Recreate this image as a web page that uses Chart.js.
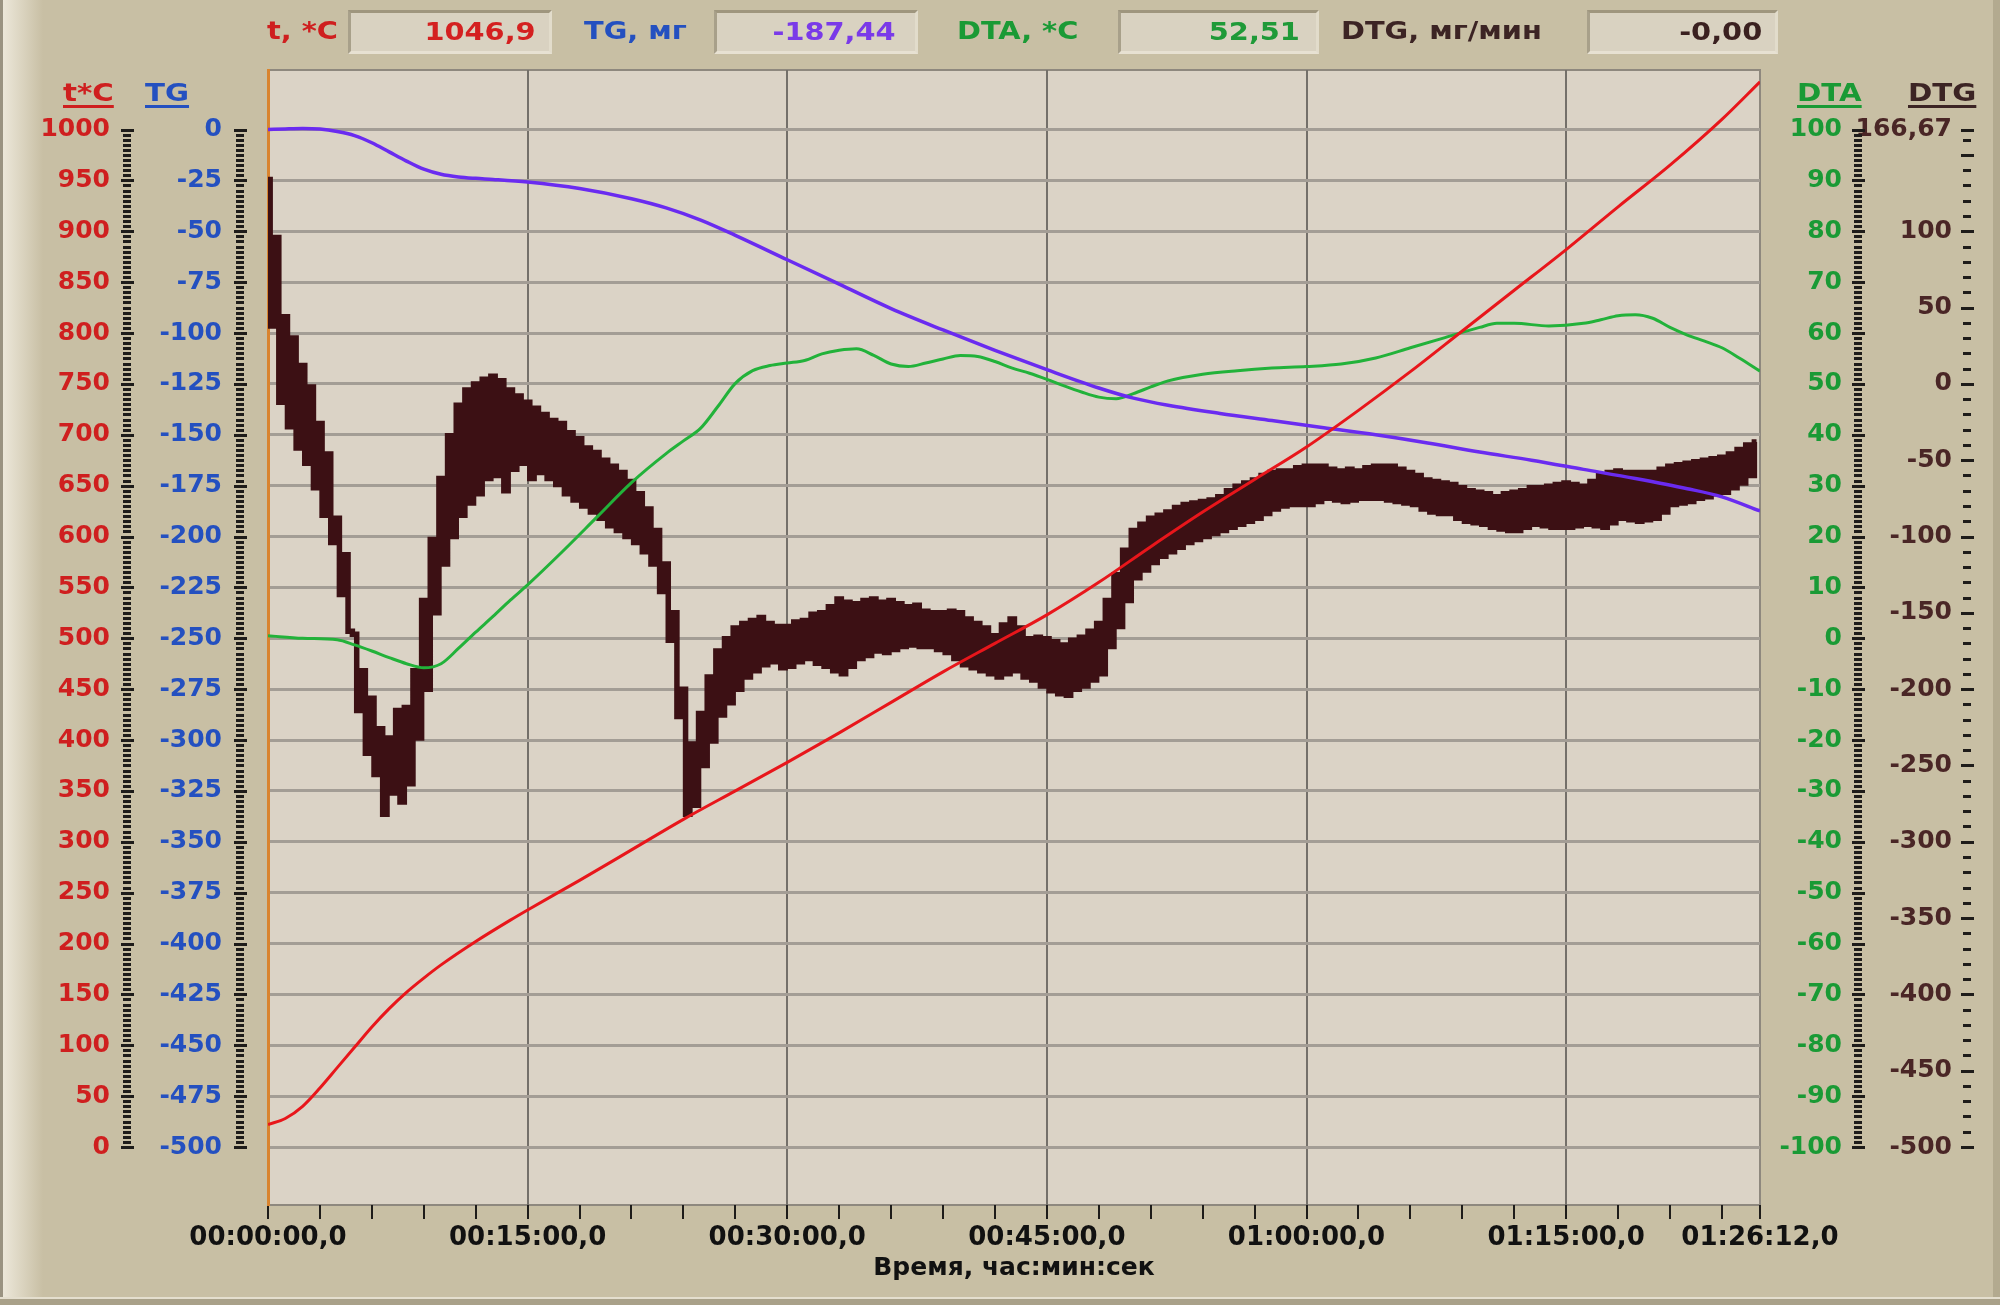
<!DOCTYPE html>
<html>
<head>
<meta charset="utf-8">
<script src="https://cdn.jsdelivr.net/npm/chart.js@4.4.1/dist/chart.umd.min.js"></script>
<style>
    html, body { margin: 0; padding: 0; }
    body {
        width: 2000px; height: 1305px; position: relative; overflow: hidden;
        background: #c8bfa4;
        font-family: "DejaVu Sans", sans-serif; font-weight: bold;
    }
    #stripe { position: absolute; left: 3px; top: 0; width: 40px; height: 1305px;
        background: linear-gradient(to right, #ece7d9, #c8bfa4); }
    #edgeL { position: absolute; left: 0; top: 0; width: 3px; height: 1305px; background: #9a9381; }
    #edgeR { position: absolute; right: 0; top: 0; width: 7px; height: 1305px; background: #b3aa8f; }
    #edgeB { position: absolute; left: 0; bottom: 0; width: 2000px; height: 6px; background: #a9a189;
        border-top: 2px solid #e4dece; }
    #chartBox { position: absolute; left: 0; top: 0; width: 2000px; height: 1305px; }
    .lbl { position: absolute; top: 11px; height: 40px; line-height: 40px; font-size: 24px;
        white-space: nowrap; transform: scaleX(1.2); transform-origin: left center; }
    .box { position: absolute; top: 10px; height: 44px; box-sizing: border-box;
        background: #d9d2c1; text-align: right; line-height: 38px; font-size: 24px;
        border-top: 3px solid #9f967e; border-left: 3px solid #a8a08a;
        border-bottom: 3px solid #e7e1d2; border-right: 3px solid #e2dccb; }
    .box span { display: inline-block; transform: scaleX(1.2); transform-origin: right center; }
    .axh { position: absolute; top: 76px; font-size: 24px; line-height: 34px; white-space: nowrap;
        text-decoration: underline; text-decoration-thickness: 3px; text-underline-offset: 4px;
        transform: scaleX(1.22); transform-origin: left center; }
</style>
</head>
<body>
<div id="edgeL"></div>
<div id="stripe"></div>
<div id="edgeR"></div>
<div id="edgeB"></div>
<div id="chartBox"><canvas id="dtaChart" width="2000" height="1305"></canvas></div>

<!-- readout row -->
<div class="lbl" style="left:267px;color:#cf1f1f">t, *C</div>
<div class="box" style="left:348px;width:204px;padding-right:13px;color:#d42020"><span>1046,9</span></div>
<div class="lbl" style="left:584px;color:#2450c0">TG, мг</div>
<div class="box" style="left:714px;width:204px;padding-right:19px;color:#7a3ae8"><span>-187,44</span></div>
<div class="lbl" style="left:957px;color:#1a9a35">DTA, *C</div>
<div class="box" style="left:1118px;width:201px;padding-right:16px;color:#1f9a38"><span>52,51</span></div>
<div class="lbl" style="left:1341px;color:#3c2424">DTG, мг/мин</div>
<div class="box" style="left:1587px;width:191px;padding-right:13px;color:#3a2020"><span>-0,00</span></div>

<!-- axis headers -->
<div class="axh" style="left:63px;color:#cf1f1f">t*C</div>
<div class="axh" style="left:145px;color:#2450c0">TG</div>
<div class="axh" style="left:1797px;color:#1a9a35">DTA</div>
<div class="axh" style="left:1908px;color:#3c2424">DTG</div>

<script>
// Time in minutes

const tempTime = [0, 1, 2, 3, 4, 5, 6, 7, 8, 9, 10, 12, 14, 15, 18, 21, 24, 27, 30, 33, 36, 39, 42, 45,
    48, 51, 54, 57, 60, 63, 66, 69, 72, 75, 78, 81, 84, 86.2];
const tempVal = [22, 28, 40, 58, 78, 98, 118, 136, 152, 166, 179, 202, 223, 233, 262, 292, 322, 350, 378, 407, 437, 467, 495, 523,
    555, 590, 624, 656, 688, 724, 762, 802, 842, 882, 924, 965, 1010, 1046.9];

const tgTime = [0, 1, 2, 3, 4, 5, 6, 7, 8, 9, 10, 11, 12, 13, 15, 18, 21, 23, 25, 27, 30, 33, 36, 39, 42, 45,
    48, 50, 52, 55, 58, 61, 64, 67, 70, 73, 76, 79, 82, 84, 86.2];
const tgVal = [0, 0.3, 0.5, 0.2, -1, -3, -6.5, -11, -15.5, -19.5, -22, -23.3, -24, -24.5, -25.8, -29, -34, -38.5, -44.5, -52, -64, -76, -88, -98.5, -108.5, -118,
    -127, -132, -135.5, -139.5, -143, -146.5, -150, -154, -158.5, -162.5, -167, -171.5, -176.5, -180.5, -187.44];

const dtaTime = [0, 2, 4, 5, 6, 7, 8, 9, 10, 11, 12, 13, 14, 15, 17, 19, 21, 23, 24, 25, 26, 27, 28, 29, 30, 31, 32, 33, 34, 35,
    36, 37, 38, 39, 40, 41, 42, 43, 44, 45, 46, 47, 48, 49, 50, 51, 52, 54, 56, 58, 60, 62, 64, 66, 68, 70, 71, 72, 74, 76,
    77, 78, 79, 80, 81, 82, 83, 84, 85, 86.2];
const dtaVal = [0.5, 0, -0.3, -1.3, -2.5, -3.8, -5, -5.8, -5, -2, 1.2, 4.3, 7.5, 10.5, 17, 23.8, 30.6, 36.3, 38.8, 41.3, 45.6, 50.1, 52.6, 53.6, 54.1, 54.6, 55.9, 56.6, 56.9, 55.6,
    53.9, 53.4, 54.1, 54.9, 55.6, 55.4, 54.4, 53.1, 52.1, 50.9, 49.6, 48.4, 47.4, 47.1, 48.1, 49.4, 50.6, 51.9, 52.6, 53.1, 53.4, 53.9, 55.1, 57.1, 59.1, 61.1, 61.9, 61.9, 61.4, 61.9,
    62.6, 63.4, 63.6, 62.9, 61.1, 59.6, 58.4, 57.1, 55.1, 52.51];

// DTG is sampled every 0.25 min (one row = one minute)
const dtgStep = 0.25;
const dtgVal = [
    134, 38, 96, -12,   44, -28, 30, -42,   12, -52, -2, -68,   -26, -86, -46, -104,
    -88, -138, -112, -162,   -164, -214, -188, -242,   -206, -256, -226, -282,   -232, -268, -214, -274,
    -212, -262, -188, -232,   -142, -200, -102, -150,   -62, -118, -34, -100,   -14, -86, -4, -78,
    0, -72, 3, -62,   5, -60, 2, -70,   -4, -56, -8, -52,   -12, -62, -16, -58,
    -20, -62, -24, -66,   -26, -72, -32, -76,   -36, -80, -42, -84,   -45, -88, -50, -93,
    -54, -96, -58, -100,   -64, -104, -72, -110,   -82, -118, -96, -136,   -118, -168, -150, -218,
    -200, -282, -236, -276,   -216, -250, -192, -234,   -175, -217, -167, -209,   -160, -200, -157, -192,
    -155, -188, -153, -184,   -157, -182, -159, -186,   -159, -185, -156, -182,   -155, -180, -151, -183,
    -150, -185, -146, -188,   -141, -190, -143, -185,   -144, -180, -142, -178,   -141, -175, -143, -176,
    -142, -174, -144, -172,   -146, -171, -145, -172,   -149, -172, -150, -174,   -150, -176, -149, -180,
    -150, -184, -154, -186,   -157, -188, -160, -190,   -165, -192, -158, -190,   -154, -188, -160, -192,
    -167, -194, -166, -198,   -167, -201, -169, -203,   -171, -204, -168, -200,   -166, -198, -162, -194,
    -157, -190, -142, -172,   -125, -159, -109, -142,   -96, -127, -92, -122,   -88, -117, -86, -113,
    -84, -110, -81, -107,   -79, -104, -78, -102,   -77, -100, -76, -98,   -74, -96, -70, -94,
    -67, -92, -65, -90,   -63, -88, -60, -85,   -58, -82, -57, -80,   -57, -79, -55, -79,
    -54, -79, -54, -77,   -54, -75, -56, -76,   -57, -77, -56, -76,   -57, -75, -55, -75,
    -54, -75, -54, -76,   -54, -77, -56, -78,   -58, -79, -60, -82,   -63, -84, -64, -85,
    -65, -85, -66, -88,   -68, -90, -70, -91,   -71, -92, -72, -94,   -74, -95, -72, -96,
    -71, -96, -70, -94,   -68, -92, -68, -93,   -67, -94, -66, -94,   -65, -94, -66, -93,
    -67, -92, -64, -93,   -60, -94, -58, -91,   -57, -88, -58, -89,   -58, -90, -58, -89,
    -58, -88, -56, -84,   -54, -79, -53, -78,   -52, -77, -51, -75,   -50, -74, -49, -72,
    -48, -71, -46, -68,   -43, -65, -40, -60,
    -38
];

// Axis ticks
const xMajorTicks = [0, 15, 30, 45, 60, 75, 86.2];
const xMinorStep = 3;
const tempTicks = [0, 50, 100, 150, 200, 250, 300, 350, 400, 450, 500, 550, 600, 650, 700, 750, 800, 850, 900, 950, 1000];
const tgTicks = [-500, -475, -450, -425, -400, -375, -350, -325, -300, -275, -250, -225, -200, -175, -150, -125, -100, -75, -50, -25, 0];
const dtaTicks = [-100, -90, -80, -70, -60, -50, -40, -30, -20, -10, 0, 10, 20, 30, 40, 50, 60, 70, 80, 90, 100];
const dtgTicks = [-500, -450, -400, -350, -300, -250, -200, -150, -100, -50, 0, 50, 100, 166.67];

// Shared vertical span (in °C); other axes are linear images of it
const tempMin = -57;
const tempMax = 1058.5;
const toTG = t => t / 2 - 500;
const toDTA = t => (t - 500) / 5;
const toDTG = t => t * 2 / 3 - 500;

const FONT = '"DejaVu Sans", sans-serif';
Chart.defaults.font.family = FONT;

function pairs(xs, ys) {
    return ys.map((y, i) => ({ x: xs[i], y: y }));
}

function clock(min) {
    const total = Math.round(min * 60);
    const h = Math.floor(total / 3600);
    const m = Math.floor((total % 3600) / 60);
    const s = total % 60;
    const p = n => String(n).padStart(2, '0');
    return p(h) + ':' + p(m) + ':' + p(s) + ',0';
}

function xTickList() {
    const list = [];
    for (let v = 0; v <= 84; v += xMinorStep) list.push(v);
    list.push(86.2);
    return list;
}

function isMajorX(v) {
    return xMajorTicks.some(t => Math.abs(t - v) < 1e-6);
}

function fixedTicks(values) {
    return function(scale) {
        scale.ticks = values.map(v => ({ value: v }));
    };
}

function commaLabel(v) {
    return String(Math.round(v * 100) / 100).replace('.', ',');
}

// dashed tick columns next to the labels
const dashColumns = [
    { axis: 'yT', cx: 127, from: 0, to: 1000, minor: 5, major: 50 },
    { axis: 'yTG', cx: 240, from: -500, to: 0, minor: 2.5, major: 25 },
    { axis: 'yDTA', cx: 1858, from: -100, to: 100, minor: 1, major: 10 },
    { axis: 'yDTG', cx: 1967, from: -500, to: 160, minor: 10, major: 50, extra: [166.67] }
];

const panelPlugin = {
    id: 'panel',
    beforeDraw(chart) {
        const { ctx, chartArea: a } = chart;
        ctx.save();
        ctx.fillStyle = '#dbd3c6';
        ctx.fillRect(a.left, a.top, a.right - a.left, a.bottom - a.top);
        ctx.strokeStyle = '#8e887e';
        ctx.lineWidth = 2;
        ctx.strokeRect(a.left, a.top, a.right - a.left, a.bottom - a.top);
        ctx.restore();
    },
    afterDraw(chart) {
        const ctx = chart.ctx;
        ctx.save();
        ctx.fillStyle = '#1e1c1a';
        dashColumns.forEach(col => {
            const scale = chart.scales[col.axis];
            const n = Math.round((col.to - col.from) / col.minor);
            const draw = (v, major) => {
                const y = Math.round(scale.getPixelForValue(v));
                const w = major ? 13 : 8;
                ctx.fillRect(Math.round(col.cx - w / 2), y - 1, w, 3);
            };
            for (let i = 0; i <= n; i++) {
                const v = col.from + i * col.minor;
                const r = v / col.major;
                draw(v, Math.abs(r - Math.round(r)) < 1e-6);
            }
            (col.extra || []).forEach(v => draw(v, true));
        });
        ctx.restore();
    }
};

const ctx = document.getElementById('dtaChart');
const dtaChart = new Chart(ctx, {
    type: 'line',
    data: {
        datasets: [
            {
                label: 't',
                data: pairs(tempTime, tempVal),
                yAxisID: 'yT',
                borderColor: '#e8161b',
                borderWidth: 3,
                cubicInterpolationMode: 'monotone',
                pointRadius: 0
            },
            {
                label: 'TG',
                data: pairs(tgTime, tgVal),
                yAxisID: 'yTG',
                borderColor: '#6a2bf0',
                borderWidth: 3.5,
                cubicInterpolationMode: 'monotone',
                pointRadius: 0
            },
            {
                label: 'DTA',
                data: pairs(dtaTime, dtaVal),
                yAxisID: 'yDTA',
                borderColor: '#22b23a',
                borderWidth: 3,
                cubicInterpolationMode: 'monotone',
                pointRadius: 0
            },
            {
                label: 'DTG',
                data: dtgVal.map((v, i) => ({ x: i * dtgStep, y: v })),
                yAxisID: 'yDTG',
                borderColor: '#3c1014',
                borderWidth: 5.5,
                stepped: 'middle',
                pointRadius: 0
            }
        ]
    },
    options: {
        responsive: false,
        animation: false,
        devicePixelRatio: 1,
        layout: { padding: { left: 0, right: 48, top: 70, bottom: 0 } },
        plugins: {
            legend: { display: false },
            tooltip: { enabled: false }
        },
        scales: {
            x: {
                type: 'linear',
                position: 'bottom',
                min: 0,
                max: 86.2,
                afterBuildTicks: fixedTicks(xTickList()),
                afterFit: s => { s.height = 100; },
                grid: {
                    color: c => (c.tick && isMajorX(c.tick.value) && c.tick.value > 0 && c.tick.value < 86) ? '#74706a' : 'rgba(0,0,0,0)',
                    lineWidth: 2,
                    tickColor: '#1e1c1a',
                    tickWidth: 2,
                    tickLength: 14
                },
                border: { display: false },
                ticks: {
                    autoSkip: false,
                    maxRotation: 0,
                    padding: 4,
                    color: '#111',
                    font: { size: 26, weight: 'bold' },
                    callback: v => isMajorX(v) ? clock(v) : ''
                },
                title: {
                    display: true,
                    text: 'Время, час:мин:сек',
                    color: '#111',
                    font: { size: 25, weight: 'bold' },
                    padding: { top: 0, bottom: 22 }
                }
            },
            yT: {
                axis: 'y',
                position: 'left',
                weight: 2,
                min: tempMin,
                max: tempMax,
                afterBuildTicks: fixedTicks(tempTicks),
                afterFit: s => { s.width = 128; },
                grid: { color: '#a39d95', lineWidth: 3, drawTicks: false },
                border: { display: false },
                ticks: {
                    autoSkip: false, padding: 18, color: '#cf1f1f', font: { size: 25, weight: 'bold' },
                    callback: v => String(v)
                }
            },
            yTG: {
                axis: 'y',
                position: 'left',
                weight: 1,
                min: toTG(tempMin),
                max: toTG(tempMax),
                afterBuildTicks: fixedTicks(tgTicks),
                afterFit: s => { s.width = 140; },
                grid: { drawOnChartArea: false, drawTicks: false },
                border: { display: true, color: '#d9842f', width: 3, dash: [6, 5] },
                ticks: {
                    autoSkip: false, padding: 46, color: '#2450c0', font: { size: 25, weight: 'bold' },
                    callback: v => String(v)
                }
            },
            yDTA: {
                axis: 'y',
                position: 'right',
                weight: 1,
                min: toDTA(tempMin),
                max: toDTA(tempMax),
                afterBuildTicks: fixedTicks(dtaTicks),
                afterFit: s => { s.width = 82; },
                grid: { drawOnChartArea: false, drawTicks: false },
                border: { display: false },
                ticks: {
                    autoSkip: false, crossAlign: 'far', color: '#1a9a35', font: { size: 25, weight: 'bold' },
                    callback: v => String(v)
                }
            },
            yDTG: {
                axis: 'y',
                position: 'right',
                weight: 2,
                min: toDTG(tempMin),
                max: toDTG(tempMax),
                afterBuildTicks: fixedTicks(dtgTicks),
                afterFit: s => { s.width = 110; },
                grid: { drawOnChartArea: false, drawTicks: false },
                border: { display: false },
                ticks: {
                    autoSkip: false,
                    crossAlign: 'far',
                    color: '#4a2626',
                    font: { size: 25, weight: 'bold' },
                    callback: v => commaLabel(v)
                }
            }
        }
    },
    plugins: [panelPlugin]
});
</script>
</body>
</html>
